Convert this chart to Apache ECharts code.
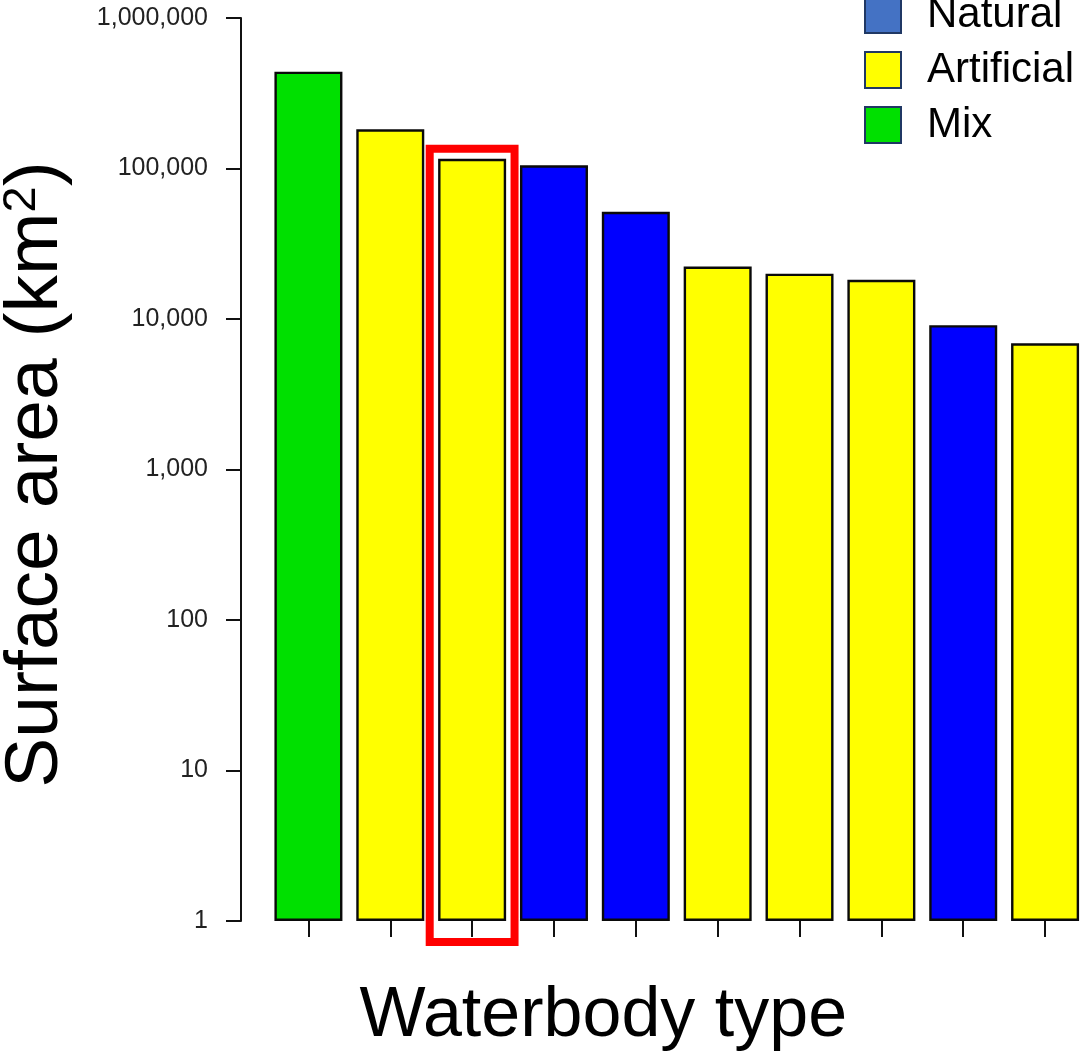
<!DOCTYPE html>
<html>
<head>
<meta charset="utf-8">
<script src="https://cdn.jsdelivr.net/npm/echarts@6/dist/echarts.min.js"></script>
<style>
html,body{margin:0;padding:0;background:#fff;}
#chart{width:1081px;height:1054px;}
</style>
</head>
<body>
<div id="chart"></div>
<script>
// Data
const categories = ['1', '2', '3', '4', '5', '6', '7', '8', '9', '10'];
const values = [440000, 182000, 116000, 105000, 51600, 22300, 20000, 18200, 9100, 6900];
const types = ['Mix', 'Artificial', 'Artificial', 'Natural', 'Natural', 'Artificial', 'Artificial', 'Artificial', 'Natural', 'Artificial'];
const typeNames = ['Natural', 'Artificial', 'Mix'];
const yTickValues = [1, 10, 100, 1000, 10000, 100000, 1000000];
const highlightedIndex = 2;

const FONT = 'Liberation Sans, Arial, Helvetica, sans-serif';
const barColors = { Natural: '#0000FF', Artificial: '#FFFF00', Mix: '#00E000' };
const legendColors = { Natural: '#4472C4', Artificial: '#FFFF00', Mix: '#00E000' };

const chart = echarts.init(document.getElementById('chart'), null, { renderer: 'canvas' });

const series = typeNames.map(name => ({
  name: name,
  type: 'bar',
  barWidth: 68,
  barGap: '-100%',
  data: values.map((v, i) => (types[i] === name ? v : '-')),
  itemStyle: { color: barColors[name], borderColor: '#0a0a0a', borderWidth: 2.4 },
  emphasis: { disabled: true },
  animation: false
}));

chart.setOption({
  animation: false,
  backgroundColor: '#fff',
  grid: { left: 267.5, right: -5, top: 18, bottom: 133, outerBoundsMode: 'none', containLabel: false },
  legend: {
    orient: 'vertical',
    left: 859,
    top: -11,
    itemWidth: 36,
    itemHeight: 36,
    itemGap: 13,
    icon: 'rect',
    selectedMode: false,
    itemStyle: { borderColor: '#203864', borderWidth: 2 },
    textStyle: { fontSize: 42, fontFamily: FONT, color: '#000', padding: [0, 0, 0, 21] },
    data: typeNames.map(n => ({ name: n, itemStyle: { color: legendColors[n] } }))
  },
  xAxis: {
    type: 'category',
    data: categories,
    name: 'Waterbody type',
    nameLocation: 'middle',
    nameGap: 61,
    nameTextStyle: { fontSize: 70, fontFamily: FONT, color: '#000', padding: [0, 147, 0, 0] },
    axisLine: { show: false },
    axisTick: { show: true, alignWithLabel: true, length: 16, lineStyle: { color: '#111', width: 2 } },
    axisLabel: { show: false },
    splitLine: { show: false }
  },
  yAxis: {
    type: 'log',
    logBase: 10,
    min: yTickValues[0],
    max: yTickValues[yTickValues.length - 1],
    splitNumber: yTickValues.length - 1,
    offset: 26.5,
    name: 'Surface area (km{sup|2})',
    nameLocation: 'middle',
    nameGap: 167,
    nameRotate: 90,
    nameTextStyle: {
      fontSize: 75, fontFamily: FONT, color: '#000', padding: [0, 10, 0, 0],
      rich: { sup: { fontSize: 47, fontFamily: FONT, color: '#000', verticalAlign: 'top' } }
    },
    axisLine: { show: true, lineStyle: { color: '#111', width: 2 } },
    axisTick: { show: true, inside: false, length: 15, lineStyle: { color: '#111', width: 2 } },
    axisLabel: {
      fontSize: 25, fontFamily: FONT, color: '#222', margin: 33,
      formatter: v => Math.round(v).toLocaleString('en-US')
    },
    splitLine: { show: false }
  },
  series: series
});

// Red highlight box around the highlighted category, derived from the axes
const cx = chart.convertToPixel({ xAxisIndex: 0 }, highlightedIndex);
const band = chart.convertToPixel({ xAxisIndex: 0 }, highlightedIndex + 1) - cx;
const yTop = chart.convertToPixel({ yAxisIndex: 0 }, values[highlightedIndex]) - 10;
const yBase = chart.convertToPixel({ yAxisIndex: 0 }, yTickValues[0]) + 21;
const half = band / 2 + 1.5;
chart.setOption({
  graphic: [{
    type: 'rect',
    shape: { x: cx - half, y: yTop, width: half * 2, height: yBase - yTop },
    style: { fill: 'none', stroke: '#FF0000', lineWidth: 8 },
    z: 100
  }]
});
</script>
</body>
</html>
